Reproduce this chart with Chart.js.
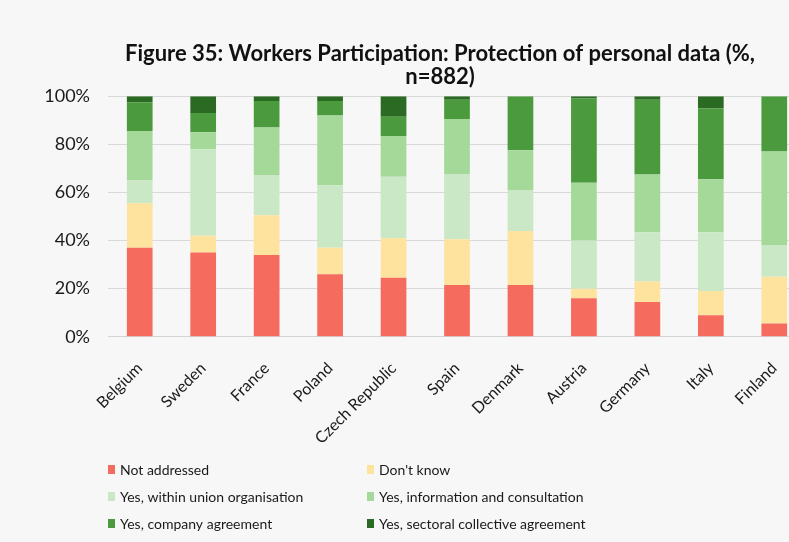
<!DOCTYPE html>
<html>
<head>
<meta charset="utf-8">
<script src="https://cdn.jsdelivr.net/npm/chart.js@4"></script>
<style>
  html, body { margin: 0; padding: 0; background: #f7f7f7; overflow: hidden; }
  #wrap { position: absolute; left: 0; top: 0; width: 880px; height: 542px; }
</style>
</head>
<body>
<div id="wrap"><canvas id="chart"></canvas></div>
<script>
const countries = ["Belgium", "Sweden", "France", "Poland", "Czech Republic", "Spain",
  "Denmark", "Austria", "Germany", "Italy", "Finland"];

const notAddressed = [37, 35, 34, 26, 24.5, 21.5, 21.5, 16, 14.5, 9, 5.5];
const dontKnow = [18.5, 7, 16.5, 11, 16.5, 19, 22.5, 4, 8.5, 10, 19.5];
const unionOrg = [9.5, 36, 16.5, 26, 25.5, 27, 17, 20, 20.5, 24.5, 13];
const infoConsult = [20.5, 7, 20, 29, 17, 23, 16.5, 24, 24, 22, 39];
const companyAgr = [12, 8, 11, 6, 8, 8, 22.5, 35, 31, 29.5, 23];
const sectoralAgr = [2.5, 7, 2, 2, 8.5, 1.5, 0, 1, 1.5, 5, 0];

const seriesLabels = ["Not addressed", "Don't know", "Yes, within union organisation",
  "Yes, information and consultation", "Yes, company agreement", "Yes, sectoral collective agreement"];
const colors = ["#f56c5e", "#fee39e", "#cae8c6", "#a5d99a", "#4b9a3d", "#2b6a23"];
const yTicks = [0, 20, 40, 60, 80, 100];

const FONT = "Lato";

// two-column legend like the original, drawn under the axis
const gridLegend = {
  id: "gridLegend",
  afterDraw(chart) {
    const ctx = chart.ctx;
    const left = chart.chartArea.left;
    const cols = [left, left + 259];
    const rows = [470, 497, 524];
    ctx.save();
    ctx.font = `14px ${FONT}`;
    ctx.textBaseline = "middle";
    chart.data.datasets.forEach((ds, i) => {
      const x = cols[i % 2];
      const y = rows[Math.floor(i / 2)];
      ctx.fillStyle = ds.backgroundColor;
      ctx.fillRect(x, y - 5, 7, 9);
      ctx.fillStyle = "#1a1a1a";
      ctx.fillText(ds.label, x + 12, y);
    });
    ctx.restore();
  },
};

const seriesData = [notAddressed, dontKnow, unionOrg, infoConsult, companyAgr, sectoralAgr];

new Chart("chart", {
  type: "bar",
  data: {
    labels: countries,
    datasets: seriesData.map((d, i) => ({
      label: seriesLabels[i],
      data: d,
      backgroundColor: colors[i],
      borderWidth: 0,
      barPercentage: 0.5,
      categoryPercentage: 0.81,
    })),
  },
  options: {
    responsive: true,
    maintainAspectRatio: false,
    animation: false,
    layout: { padding: { left: 40, right: 40, top: 0, bottom: 80 } },
    plugins: {
      legend: { display: false },
      tooltip: { enabled: false },
      title: {
        display: true,
        text: ["Figure 35: Workers Participation: Protection of personal data (%,", "n=882)"],
        color: "#111",
        font: { size: 22, family: FONT, weight: "bold", lineHeight: 1.05 },
        padding: { top: 42, bottom: 8 },
      },
    },
    scales: {
      x: {
        stacked: true,
        grid: { display: false },
        border: { color: "#d4d4d4" },
        ticks: {
          color: "#1a1a1a",
          font: { size: 16, family: FONT },
          minRotation: 45,
          maxRotation: 45,
          padding: 14,
        },
      },
      y: {
        stacked: true,
        min: 0,
        max: 100,
        afterBuildTicks: (s) => { s.ticks = yTicks.map((v) => ({ value: v })); },
        afterFit: (s) => { s.width = 68; },
        grid: { color: "#d9d9d9", drawTicks: false },
        border: { display: false },
        ticks: {
          color: "#1a1a1a",
          font: { size: 18, family: FONT },
          padding: 18,
          callback: (v) => v + "%",
        },
      },
      // empty right axis so the plot runs off the right edge like the original
      spacer: {
        position: "right",
        grid: { display: false },
        border: { display: false },
        ticks: { display: false },
        afterFit: (s) => { s.width = 34; },
      },
    },
  },
  plugins: [gridLegend],
});
</script>
</body>
</html>
